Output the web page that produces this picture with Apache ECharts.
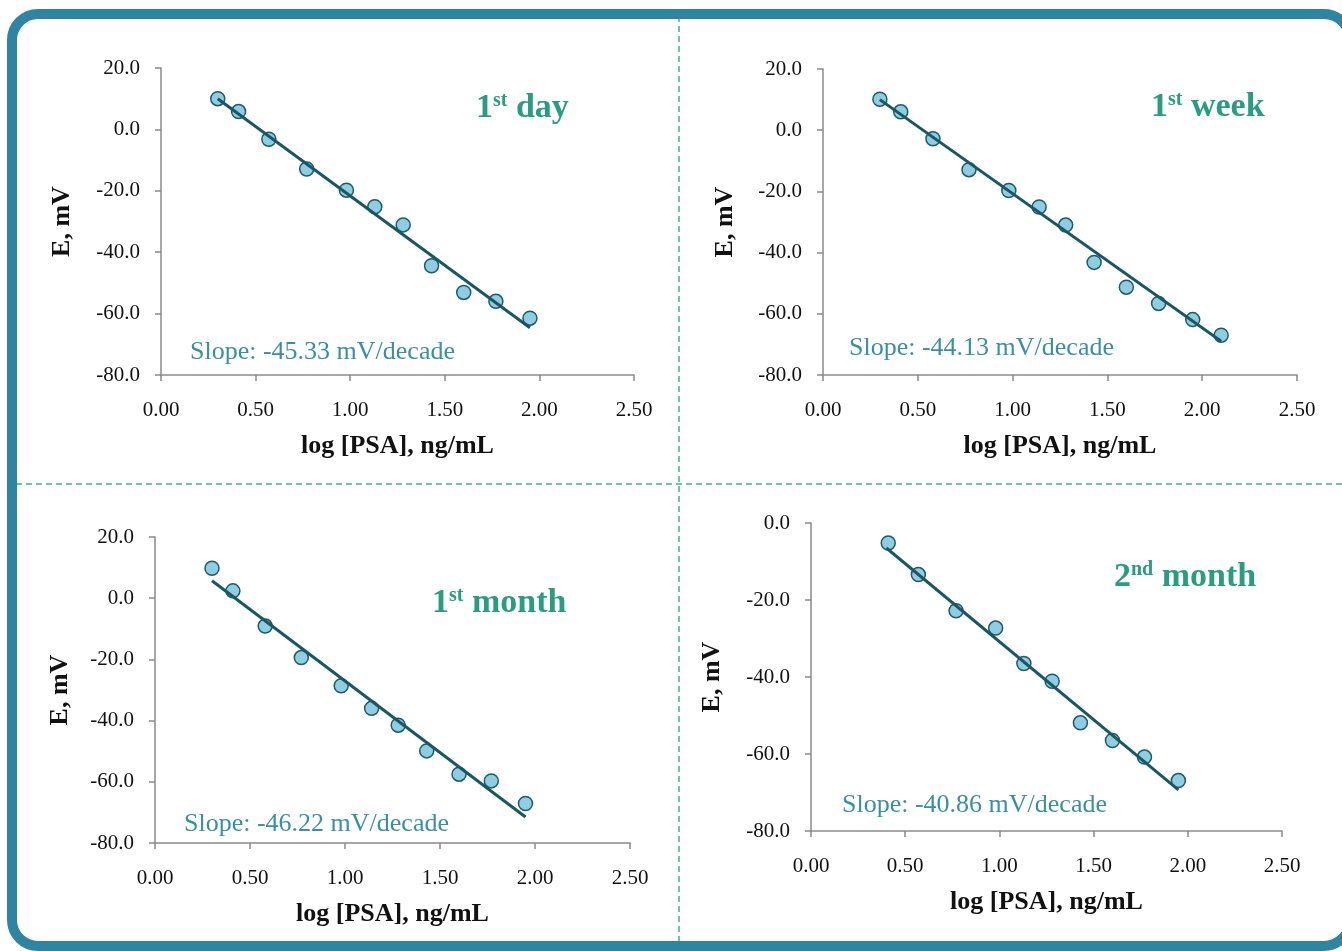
<!DOCTYPE html>
<html>
<head>
<meta charset="utf-8">
<script src="https://cdn.jsdelivr.net/npm/echarts@6/dist/echarts.min.js"></script>
<style>
html,body{margin:0;padding:0;background:#fff;}
#c{width:1342px;height:951px;}
</style>
</head>
<body>
<div id="c"></div>
<script>
// ---- Data ----
var panelTitles = [['1','st',' day'], ['1','st',' week'], ['1','st',' month'], ['2','nd',' month']];
var slopeTexts = ['Slope: -45.33 mV/decade', 'Slope: -44.13 mV/decade', 'Slope: -46.22 mV/decade', 'Slope: -40.86 mV/decade'];

var xDay = [0.30, 0.41, 0.57, 0.77, 0.98, 1.13, 1.28, 1.43, 1.60, 1.77, 1.95];
var eDay = [10.0, 5.8, -3.2, -12.9, -19.8, -25.2, -31.1, -44.4, -53.1, -56.0, -61.5];
var fitDayX = [0.30, 1.95];
var fitDayE = [10.0, -64.6];

var xWeek = [0.30, 0.41, 0.58, 0.77, 0.98, 1.14, 1.28, 1.43, 1.60, 1.77, 1.95, 2.10];
var eWeek = [10.1, 6.0, -2.8, -12.9, -19.7, -25.1, -31.0, -43.2, -51.3, -56.6, -61.9, -67.0];
var fitWeekX = [0.30, 2.10];
var fitWeekE = [10.0, -69.0];

var xMonth = [0.30, 0.41, 0.58, 0.77, 0.98, 1.14, 1.28, 1.43, 1.60, 1.77, 1.95];
var eMonth = [9.8, 2.4, -9.1, -19.4, -28.6, -36.0, -41.5, -49.9, -57.5, -59.7, -67.1];
var fitMonthX = [0.30, 1.95];
var fitMonthE = [5.7, -71.5];

var x2Month = [0.41, 0.57, 0.77, 0.98, 1.13, 1.28, 1.43, 1.60, 1.77, 1.95];
var e2Month = [-5.2, -13.4, -22.8, -27.3, -36.5, -41.1, -51.9, -56.5, -60.8, -66.9];
var fit2MonthX = [0.40, 1.95];
var fit2MonthE = [-6.5, -69.3];

var xTickMin = 0, xTickMax = 2.5, xTickStep = 0.5;
var yMaxes = [20, 20, 20, 0];
var yMin = -80, yStep = 20;

var xName = 'log [PSA], ng/mL';
var yName = 'E, mV';

// ---- Layout ----
var grids = [
  {left: 161, top: 68, width: 473, height: 307},
  {left: 823, top: 69, width: 474, height: 306},
  {left: 155, top: 537, width: 475, height: 306},
  {left: 811, top: 523, width: 471, height: 308}
];
var yNameGaps = [86, 85, 82, 86];
var titlePos = [[471, 78], [1146, 77], [427, 573], [1109, 547]];
var slopePos = [[185, 334], [844, 330], [179, 806], [837, 787]];

var FONT = '"Liberation Serif", "Times New Roman", serif';
var dataX = [xDay, xWeek, xMonth, x2Month];
var dataE = [eDay, eWeek, eMonth, e2Month];
var fitX = [fitDayX, fitWeekX, fitMonthX, fit2MonthX];
var fitE = [fitDayE, fitWeekE, fitMonthE, fit2MonthE];

function pairs(xs, ys) { return xs.map(function (v, i) { return [v, ys[i]]; }); }

var xAxes = [], yAxes = [], series = [], titles = [];
for (var i = 0; i < 4; i++) {
  xAxes.push({
    gridIndex: i, type: 'value', min: xTickMin, max: xTickMax, interval: xTickStep,
    name: xName, nameLocation: 'middle', nameGap: 58,
    nameTextStyle: {fontFamily: FONT, fontWeight: 'bold', fontSize: 26, color: '#111'},
    axisLine: {show: true, onZero: false, lineStyle: {color: '#8a8a8a', width: 1.5}},
    axisTick: {show: true, inside: false, length: 6, lineStyle: {color: '#8a8a8a', width: 1.5}},
    axisLabel: {margin: 25, fontFamily: FONT, fontSize: 21, color: '#111',
      formatter: function (v) { return v.toFixed(2); }},
    splitLine: {show: false}
  });
  yAxes.push({
    gridIndex: i, type: 'value', min: yMin, max: yMaxes[i], interval: yStep,
    name: yName, nameLocation: 'middle', nameGap: yNameGaps[i], nameRotate: 90,
    nameTextStyle: {fontFamily: FONT, fontWeight: 'bold', fontSize: 26, color: '#111'},
    axisLine: {show: true, onZero: false, lineStyle: {color: '#8a8a8a', width: 1.5}},
    axisTick: {show: true, inside: false, length: 6, lineStyle: {color: '#8a8a8a', width: 1.5}},
    axisLabel: {margin: 21, fontFamily: FONT, fontSize: 21, color: '#111',
      formatter: function (v) { return v.toFixed(1); }},
    splitLine: {show: false}
  });
  series.push({
    type: 'scatter', xAxisIndex: i, yAxisIndex: i, z: 2,
    symbol: 'circle', symbolSize: 14,
    itemStyle: {color: '#8fcde2', borderColor: '#1f5a68', borderWidth: 1.5, opacity: 1},
    data: pairs(dataX[i], dataE[i])
  });
  series.push({
    type: 'line', xAxisIndex: i, yAxisIndex: i, z: 3,
    symbol: 'none', silent: true,
    lineStyle: {color: '#1b5663', width: 3},
    data: pairs(fitX[i], fitE[i])
  });
  var t = panelTitles[i];
  titles.push({
    left: titlePos[i][0], top: titlePos[i][1],
    text: '{a|' + t[0] + '}{b|' + t[1] + '}{a|' + t[2] + '}',
    textStyle: {
      rich: {
        a: {fontFamily: FONT, fontWeight: 'bold', fontSize: 34, color: '#2a9c7f', verticalAlign: 'bottom', lineHeight: 42},
        b: {fontFamily: FONT, fontWeight: 'bold', fontSize: 20, color: '#2a9c7f', verticalAlign: 'bottom', lineHeight: 42, padding: [0, 0, 14, 0]}
      }
    }
  });
  titles.push({
    left: slopePos[i][0], top: slopePos[i][1],
    text: slopeTexts[i],
    textStyle: {fontFamily: FONT, fontWeight: 'normal', fontSize: 26, color: '#3a8fa3'}
  });
}

var chart = echarts.init(document.getElementById('c'), null, {renderer: 'canvas'});
chart.setOption({
  backgroundColor: '#ffffff',
  animation: false,
  title: titles,
  grid: grids,
  xAxis: xAxes,
  yAxis: yAxes,
  series: series,
  graphic: [
    {type: 'line', silent: true, z: 0, shape: {x1: 679, y1: 16, x2: 679, y2: 942},
      style: {stroke: '#3db38a', lineWidth: 1.5, lineDash: [6, 4]}},
    {type: 'line', silent: true, z: 0, shape: {x1: 16, y1: 484, x2: 1342, y2: 484},
      style: {stroke: '#3db38a', lineWidth: 1.5, lineDash: [6, 4]}},
    {type: 'rect', silent: true, z: 100, shape: {x: 12, y: 14, width: 1338, height: 932, r: 26},
      style: {fill: 'none', stroke: '#2e84a1', lineWidth: 10}}
  ]
});
</script>
</body>
</html>
